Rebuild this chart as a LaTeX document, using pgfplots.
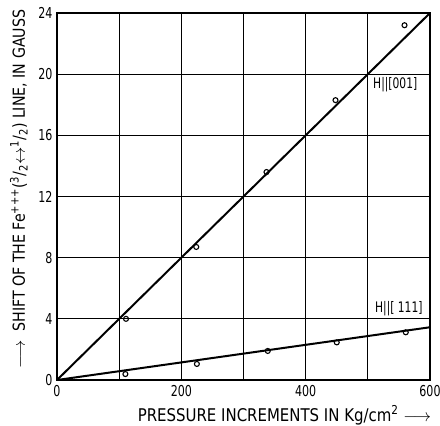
\documentclass[border=0pt]{standalone}
\usepackage{fontspec}
\setmainfont[FakeStretch=0.95]{DejaVu Sans Condensed}
\newfontfamily\digits[FakeStretch=0.82]{DejaVu Sans Condensed}
\usepackage{pgfplots}
\pgfplotsset{compat=1.18}

\begin{document}
\begin{tikzpicture}
\begin{axis}[
  scale only axis,
  width=373pt, height=367pt,
  xmin=0, xmax=600, ymin=0, ymax=24,
  xtick={0,100,...,600},
  xticklabels={0,,200,,400,,600},
  ytick={0,4,...,24},
  grid=major,
  grid style={black, line width=1.3pt},
  axis line style={line width=1.7pt},
  major tick length=0pt,
  tick label style={font=\digits\fontsize{15}{16}\selectfont},
  xticklabel style={yshift=-2pt},
  yticklabel style={xshift=-1pt},
  /pgf/number format/assume math mode=true,
  xlabel={PRESSURE INCREMENTS IN Kg/cm\textsuperscript{2} $\longrightarrow$},
  xlabel style={at={([yshift=-41pt]axis description cs:0.61,0)}, anchor=base,
                font=\fontsize{17.5}{18}\selectfont},
  ylabel={$\longrightarrow$\ \ SHIFT OF THE Fe\textsuperscript{+++}(\textsuperscript{3}/\textsubscript{2}$\leftrightarrow$\textsuperscript{1}/\textsubscript{2}) LINE, IN GAUSS},
  ylabel style={at={([xshift=-32pt]axis description cs:0,0.52)}, anchor=base,
                font=\fontsize{16.6}{17}\selectfont},
  clip=false,
]
\coordinate (bl) at (rel axis cs:0,0);
\coordinate (tr) at (rel axis cs:1,1);

% fitted lines
\addplot[black, line width=2pt] coordinates {(0,0) (600,24)};
\addplot[black, line width=2pt] coordinates {(0,0) (600,3.45)};

% measured shifts, H || [001]
\addplot[only marks, mark=o, mark size=2.5pt, black, line width=1.1pt,
         mark options={fill=white}]
  coordinates {(111,4.0) (224,8.7) (337,13.6) (448,18.3) (559,23.2)};
% measured shifts, H || [111]
\addplot[only marks, mark=o, mark size=2.5pt, black, line width=1.1pt,
         mark options={fill=white}]
  coordinates {(110,0.39) (225,1.05) (339,1.9) (450,2.46) (561,3.12)};

\node[anchor=west, font=\digits\fontsize{14.5}{15}\selectfont] at (axis cs:503,19.3) {H||[001]};
\node[anchor=west, font=\digits\fontsize{14.5}{15}\selectfont] at (axis cs:506,4.65) {H||[ 111]};
\end{axis}
\pgfresetboundingbox
\path ([shift={(-57pt,-45pt)}]bl) rectangle ([shift={(10pt,13pt)}]tr);
\end{tikzpicture}
\end{document}
